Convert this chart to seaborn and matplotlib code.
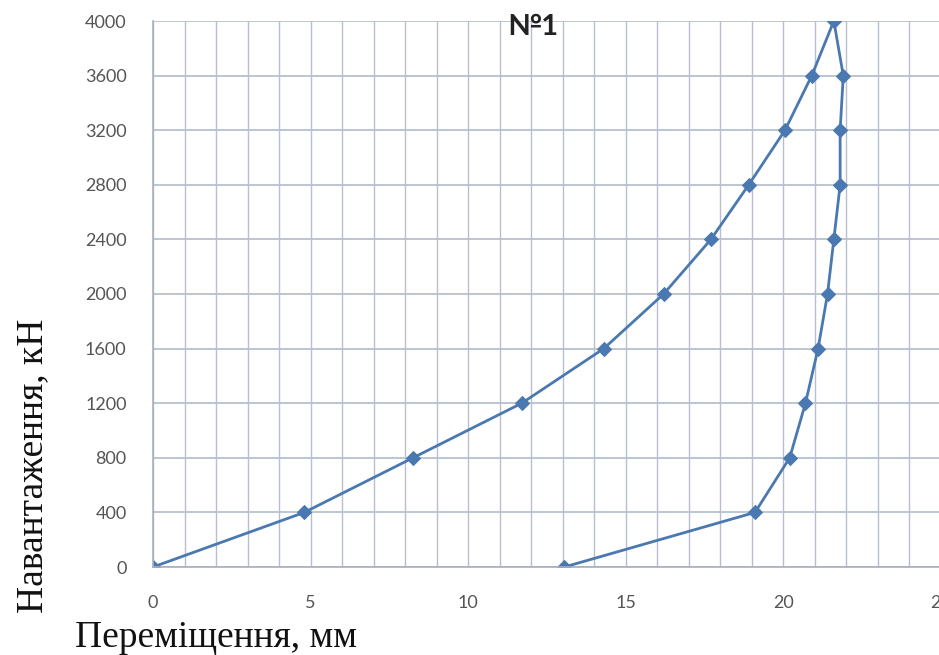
import matplotlib
matplotlib.use("Agg")
import matplotlib.pyplot as plt
import seaborn as sns
import pandas as pd
from matplotlib.ticker import MultipleLocator

# Data: loading then unloading branch (displacement mm, load kN)
displacement = [0.0, 4.8, 8.25, 11.7, 14.3, 16.2, 17.7, 18.9, 20.05, 20.9, 21.6,
                21.9, 21.8, 21.8, 21.6, 21.4, 21.1, 20.7, 20.2, 19.1, 13.05]
load = [0, 400, 800, 1200, 1600, 2000, 2400, 2800, 3200, 3600, 4000,
        3600, 3200, 2800, 2400, 2000, 1600, 1200, 800, 400, 0]
x_ticks = [0, 5, 10, 15, 20, 25]
y_ticks = [0, 400, 800, 1200, 1600, 2000, 2400, 2800, 3200, 3600, 4000]
title = "№1"
x_label = "Переміщення, мм"
y_label = "Навантаження, кН"

df = pd.DataFrame({"x": displacement, "y": load, "order": range(len(load))})

sns.set_theme(style="white")
plt.rcParams['font.family'] = ['Lato', 'DejaVu Sans']

fig = plt.figure(figsize=(9.39, 6.55), dpi=100)
ax = fig.add_axes([153/939, 1 - 567/655, (941 - 153)/939, (567 - 21)/655])

sns.lineplot(data=df, x="x", y="y", sort=False, estimator=None, ax=ax,
             color="#4a78b0", linewidth=2.0, marker="D", markersize=7,
             markeredgecolor="#4a78b0", markerfacecolor="#4a78b0")

ax.set_xlim(0, 25)
ax.set_ylim(0, 4000)
ax.set_xticks(x_ticks)
ax.set_yticks(y_ticks)
ax.xaxis.set_minor_locator(MultipleLocator(1))
ax.grid(which="both", axis="x", color="#b7bfcf", linewidth=1.0)
ax.grid(which="major", axis="y", color="#b7bfcf", linewidth=1.3)
ax.set_axisbelow(True)
for s in ["top", "right"]:
    ax.spines[s].set_visible(False)
for s in ["left", "bottom"]:
    ax.spines[s].set_color("#a8b0c0")
    ax.spines[s].set_linewidth(1.2)
ax.tick_params(axis="both", which="both", length=0, labelsize=13, colors="#555555")
ax.tick_params(axis="y", pad=19)
ax.tick_params(axis="x", pad=20)
ax.set_xlabel("")
ax.set_ylabel("")

fig.text(533/939, 1 - 27/655, title, ha="center", va="center",
         fontsize=21, fontweight="bold", color="#222222")
fig.text(216/939, 1 - 638/655, x_label, ha="center", va="center",
         fontsize=27, family="Liberation Serif", color="#111111")
fig.text(33/939, 1 - 466/655, y_label, ha="center", va="center", rotation=90,
         fontsize=27, family="Liberation Serif", color="#111111")

fig.savefig("out.png", dpi=100)
